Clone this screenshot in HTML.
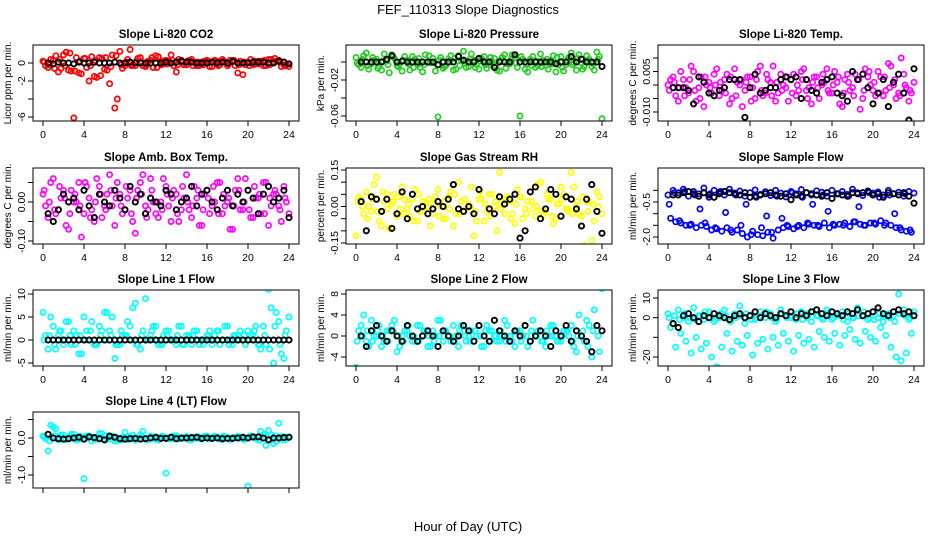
<!DOCTYPE html>
<html><head><meta charset="utf-8">
<style>
html,body{margin:0;padding:0;background:#fff;}
svg{display:block;font-family:"Liberation Sans",Arial,sans-serif;}
</style></head>
<body>
<svg id="chart" width="936" height="540" viewBox="0 0 936 540" xmlns="http://www.w3.org/2000/svg">
<rect width="936" height="540" fill="#fff"/>
<text x="468" y="14" font-size="13" text-anchor="middle">FEF_110313  Slope Diagnostics</text>
<text x="468" y="531" font-size="13" text-anchor="middle">Hour of Day (UTC)</text>
</svg>
<script>
const hoursA=[0,0.5,1,1.5,2,2.5,3,3.5,4,4.5,5,5.5,6,6.5,7,7.5,8,8.5,9,9.5,10,10.5,11,11.5,12,12.5,13,13.5,14,14.5,15,15.5,16,16.5,17,17.5,18,18.5,19,19.5,20,20.5,21,21.5,22,22.5,23,23.5,24];
const hoursB=[0.25,0.75,1.25,1.75,2.25,2.75,3.25,3.75,4.25,4.75,5.25,5.75,6.25,6.75,7.25,7.75,8.25,8.75,9.25,9.75,10.25,10.75,11.25,11.75,12.25,12.75,13.25,13.75,14.25,14.75,15.25,15.75,16.25,16.75,17.25,17.75,18.25,18.75,19.25,19.75,20.25,20.75,21.25,21.75,22.25,22.75,23.25,23.75];
const hoursC=[0.12,0.62,1.12,1.62,2.12,2.62,3.12,3.62,4.12,4.62,5.12,5.62,6.12,6.62,7.12,7.62,8.12,8.62,9.12,9.62,10.12,10.62,11.12,11.62,12.12,12.62,13.12,13.62,14.12,14.62,15.12,15.62,16.12,16.62,17.12,17.62,18.12,18.62,19.12,19.62,20.12,20.62,21.12,21.62,22.12,22.62,23.12,23.62];
const hoursK=[0.5,1,1.5,2,2.5,3,3.5,4,4.5,5,5.5,6,6.5,7,7.5,8,8.5,9,9.5,10,10.5,11,11.5,12,12.5,13,13.5,14,14.5,15,15.5,16,16.5,17,17.5,18,18.5,19,19.5,20,20.5,21,21.5,22,22.5,23,23.5,24];
const xTicks=[0,4,8,12,16,20,24];

const co2A=[0.2,-0.5,0.3,-1.0,0.9,-0.8,-6.1,-1.1,0.5,-2.0,-1.5,0.6,-0.7,-2.3,-5.0,1.3,-0.3,1.5,-0.3,0.6,-0.4,0.3,0.8,-0.2,0.3,0.9,-1.0,0.3,-0.2,0.4,-0.3,0.1,0.3,-0.4,0.2,0.4,-0.3,0.2,-1.1,-1.3,0.1,-0.2,0.2,-0.3,0.4,0.1,0.3,-0.2,-0.4];
const co2B=[-0.3,0.4,0.8,-0.6,1.2,-0.9,0.6,-1.2,-0.5,0.7,-1.6,0.5,-0.8,0.9,-4.0,-0.6,0.4,-0.2,0.5,-0.3,0.2,-0.5,0.7,-0.1,0.2,-0.3,0.4,-0.2,0.3,0.1,-0.3,0.2,-0.4,0.3,-0.2,0.1,0.3,-0.3,0.2,-0.2,0.4,-0.1,0.2,-0.3,0.4,0.2,-0.4,-0.2];
const co2C=[0.1,-0.2,-0.6,0.4,-0.3,1.1,-0.9,0.2,0.5,-0.3,0.3,-1.4,0.6,-0.4,0.8,-0.2,0.1,-0.3,0.2,0.1,-0.2,0.6,-0.5,0.2,-0.1,0.3,-0.2,0.1,0.2,-0.3,0.1,-0.2,0.2,0.1,-0.3,0.2,-0.1,0.3,-0.2,0.1,-0.3,0.2,-0.1,0.3,-0.2,0.5,0.1,-0.3];
const co2K=[0,-0.1,0.1,0,0,-0.1,0.1,0,0,0.1,0,0,0,0.1,0,0,0.1,0,0,0,0,0,0,0.1,0,0.1,0.2,0.1,0.1,0,0,0,0.1,0,0.1,0,0.2,0,0,0,0.1,0.1,0.1,0,0,0.2,0.1,-0.1];

const presA=[5,-6,10,-2,3,-9,1,8,-4,-10,2,6,-3,-11,0,4,-61,-7,3,-9,7,12,-5,2,-8,6,-3,4,-10,8,-2,5,-60,-8,3,-6,9,-4,2,-11,6,-3,10,-9,-1,7,-5,11,-63];
const presB=[-3,7,-8,2,-5,9,-12,4,-2,6,-9,3,-6,8,-1,-10,5,-4,7,-8,2,-6,9,-3,4,-7,1,-9,5,-2,8,-6,3,-11,6,-4,2,-8,7,-3,-10,5,-1,8,-5,3,-9,6];
const presC=[-1,3,-4,5,-7,1,-3,6,-5,2,-2,-6,4,-3,7,-1,2,-5,0,4,-4,-1,3,-6,1,-3,5,-4,2,-7,3,-1,6,-2,-4,1,-5,3,-2,5,-6,2,-3,4,-8,1,-2,3];
const presK=[0,0,0,0,0,3,7,0,1,0,0,0,0,0,0,-3,0,0,0,6,2,0,0,4,0,0,-6,0,0,0,8,0,0,0,0,0,0,0,-2,0,0,6,0,3,0,0,0,-5];

const tempA=[0,3,-6,2,-3,5,-1,-8,1,4,-4,2,-7,6,0,-2,3,-5,7,-3,1,-6,4,-1,2,-4,5,-2,-7,3,0,6,-3,1,-8,4,-1,2,-5,3,-2,5,-4,8,0,-3,4,-6,1];
const tempB=[2,-4,5,-1,7,-6,3,0,-3,6,-2,4,-5,1,-8,3,-1,5,-4,2,7,-3,0,-6,4,-2,6,-1,3,-5,1,-3,5,-7,2,-2,4,-9,6,0,-4,3,-2,7,-5,10,-1,-3];
const tempC=[-2,1,-1,-4,2,-2,-5,3,-1,0,1,-3,3,-4,2,1,-6,2,-2,4,-4,1,-2,3,-3,0,2,-5,1,-1,4,-2,0,3,-3,1,-4,2,-2,5,1,-3,3,-1,2,-4,0,-2];
const tempK=[-1,-1,-1,-2,-7,3,1,-3,-4,-2,-1,2,2,2,-12,-1,4,-3,-2,-1,-1,2,3,2,3,-5,2,-2,-3,1,2,3,-3,-4,-6,5,2,4,-1,-7,-3,2,-8,1,4,-3,-13,6];

const boxA=[2,-4,6,-2,3,-7,0,5,-3,1,-5,4,-1,7,-6,2,-2,3,-8,5,-1,6,-3,0,4,-5,2,-2,7,-4,1,-6,3,-1,5,-3,0,-7,6,-2,3,-4,1,5,-6,2,-1,4,-3];
const boxB=[-1,5,-3,1,-6,3,0,-9,4,-2,6,-4,2,-1,5,-3,1,-5,3,7,-2,0,-4,6,-1,3,-5,1,-2,4,-6,2,-3,0,5,-1,-7,3,-2,6,-4,1,-3,5,-1,2,-5,0];
const boxC=[3,0,-2,4,1,-3,2,-1,5,-4,0,2,-2,3,1,-1,4,-3,1,2,-4,3,0,-2,2,1,-3,4,0,-1,3,-2,1,4,-3,2,1,-1,3,0,-2,4,2,-3,1,3,-2,1];
const boxK=[-3,-5,-2,2,0,1,-2,3,-1,-4,2,0,-1,3,1,-2,4,0,2,-3,1,0,-1,3,2,-2,0,1,4,-1,2,3,0,-2,1,3,-1,2,0,3,1,-3,2,4,0,1,3,-4];

const rhA=[-12,3,6,-2,12,-8,5,1,-4,8,-1,3,-6,2,0,-3,7,-5,4,-8,10,-2,1,-12,3,-6,5,0,14,-3,2,-7,4,-1,6,-4,10,-2,3,-5,8,-1,14,0,-4,2,-14,6,-3];
const rhB=[4,-3,0,9,-6,2,-9,5,-1,3,-4,7,-2,1,-8,4,0,-5,6,-3,2,-1,8,-6,3,-2,5,-10,1,4,-3,7,-5,2,-1,9,-4,3,-7,1,5,-2,8,-3,-16,2,-6,4];
const rhC=[2,0,-5,3,-2,6,-1,2,4,-3,1,-6,5,-2,3,1,-4,2,-1,5,-3,3,0,-2,6,1,-4,2,-1,3,-5,1,4,-3,2,0,-2,5,-4,1,3,-1,-3,2,4,-2,1,0];
const rhK=[2,-10,4,3,-2,3,-9,-3,6,-5,5,-1,0,-3,-1,2,0,3,9,-1,-2,0,-3,7,-18,-1,-3,4,1,3,5,-13,-10,6,8,-5,-1,7,5,-4,4,3,-1,-8,3,9,-2,-11];

const sfA=[-20,0,-10,5,-25,-5,-15,10,-30,0,-8,-20,5,-12,-3,-25,-10,2,-18,-6,-22,0,-12,-28,-5,-15,3,-10,-20,-2,-8,-25,0,-15,-5,-18,5,-10,-22,-3,-12,-7,-20,0,-15,-8,-25,-5,-12];
const sfB=[-120,-135,-140,-150,-145,-160,-150,-155,-170,-165,-175,-160,-180,-170,-185,-200,-175,-190,-195,-180,-205,-170,-160,-155,-165,-150,-160,-145,-150,-155,-140,-160,-150,-145,-140,-155,-135,-145,-150,-140,-145,-130,-140,-150,-160,-170,-175,-180];
const sfC=[-60,-10,-130,-5,-150,-20,-80,-140,-15,-160,-5,-95,-170,-20,-150,-60,-190,-30,-160,-110,-180,-25,-120,-150,-10,-155,-30,-140,-60,-150,-20,-90,-145,-15,-150,-25,-135,-70,-150,-10,-140,-30,-150,-20,-100,-160,-15,-170];
const sfK=[-20,-20,-10,-5,-15,-25,-10,-20,-30,-15,-5,-10,-15,-20,-10,-30,-25,-20,-15,-10,-20,-25,-15,-40,-20,-25,-10,-15,-20,-25,-10,-35,-15,-20,-25,-10,-15,-10,-5,-20,-15,-30,-10,-15,-20,-10,-25,-55];

const l1A=[6,-2,3,1,-1,4,2,-3,5,0,-1,3,6,2,-4,-1,1,3,8,-2,9,1,3,-1,2,0,-1,3,1,-1,2,0,1,-1,2,0,3,-1,1,0,2,1,-1,3,11,-5,4,-4,5];
const l1B=[1,5,-2,2,4,-1,1,-3,2,4,-1,2,6,5,-1,1,4,7,-1,2,0,3,-1,1,2,0,3,-1,1,2,-1,0,2,1,-1,3,0,1,2,-1,1,3,-2,-1,7,6,-3,2];
const l1C=[0,1,-1,2,0,1,-1,1,0,2,-1,1,0,1,-1,2,1,0,-1,1,0,2,0,-1,1,0,1,-1,0,1,0,-1,1,0,2,0,-1,1,0,1,0,2,-1,1,-2,3,-1,1];
const l1K=[0,0,0,0,0,0,0,0,0,0,0,0,0,0,0,0,0,0,0,0,0,0,0,0,0,0,0,0,0,0,0,0,0,0,0,0,0,0,0,0,0,0,0,0,0,0,0,0];

const l2A=[-6,2,-1,3,0,-2,1,2,-3,0,1,-1,2,0,-2,1,3,-1,0,2,-2,1,0,-1,2,-2,1,0,-1,3,0,-2,1,2,-1,0,1,-2,2,0,-1,1,2,-3,0,3,-4,2,9];
const l2B=[1,4,-2,0,2,-1,1,3,-2,1,0,-1,2,1,-2,0,3,1,-1,0,2,-1,1,0,-2,2,1,-1,0,2,-1,1,0,-2,3,1,-1,0,2,-1,1,0,-2,4,-1,2,5,-3];
const l2C=[-1,0,1,-1,1,0,-1,1,0,-1,2,0,-1,1,0,-1,0,1,0,-1,1,0,-1,1,0,1,-1,0,1,-1,0,1,-1,0,1,0,-1,1,0,-1,0,1,-1,0,1,-2,1,0];
const l2K=[0,-2,1,2,0,-1,1,0,-1,2,0,-1,0,1,0,-2,1,0,-1,0,2,1,-1,2,0,-1,3,1,0,-1,1,0,2,-1,0,1,0,-2,1,0,2,-1,1,0,-1,-3,2,1];

const l3A=[2,-3,4,0,-2,5,1,-1,3,-2,0,4,-1,2,6,-3,1,-1,3,0,2,-2,4,1,0,-1,3,2,-2,1,0,4,-1,2,3,-2,0,5,1,-1,3,0,-2,2,1,12,4,-1,3];
const l3B=[-5,-15,-8,-12,-18,-10,-16,-13,-20,-25,-15,-8,-17,-12,-14,-9,-19,-13,-11,-16,-10,-14,-8,-12,-17,-9,-13,-11,-15,-7,-10,-12,-8,-14,-9,-6,-11,-13,-7,-10,-12,-5,-9,-15,-20,-22,-18,-8];
const l3C=[0,1,-1,2,0,-1,1,3,0,-1,2,1,-2,0,1,2,-1,0,1,3,0,-1,2,0,1,2,-1,0,3,1,-1,2,0,1,-1,2,0,1,3,0,-1,2,1,0,-2,2,1,0];
const l3K=[-3,-5,1,2,0,-2,1,0,2,1,0,-1,1,2,0,1,3,0,2,1,0,2,1,3,0,2,1,3,4,2,1,3,2,1,3,2,4,1,2,3,5,2,1,3,4,2,3,1];

const l4A=[5,-35,30,-5,8,-3,10,-4,-110,6,-2,12,-5,3,-8,-2,15,4,-6,8,-3,5,-4,2,-95,-3,6,-2,4,-5,1,-3,5,-2,3,-4,2,-1,4,-3,-130,2,-5,8,20,-15,40,-6,3];
const l4B=[-2,35,25,8,-4,10,-6,3,5,-8,2,12,-3,5,-7,2,-4,8,-2,18,-5,3,-6,4,-2,6,-3,1,-5,3,-2,4,-1,5,-3,2,-4,1,3,-2,5,-1,18,-20,8,-10,4,-2];
const l4C=[3,-8,6,2,-3,4,-1,5,-2,3,-4,1,6,-3,2,-5,3,1,-2,4,-1,2,-3,5,0,-2,3,-1,2,-3,4,0,-2,3,-1,5,-3,2,0,-4,3,1,-6,10,-4,6,-2,3];
const l4K=[10,0,-2,-3,-2,0,2,-3,3,1,-2,-5,5,2,-2,-3,-2,-1,-3,-2,0,2,-1,-1,2,-2,0,0,1,2,-1,0,-1,0,-2,-1,-1,0,2,0,3,3,0,-5,0,0,1,2];

const panelTitles=["Slope Li-820 CO2","Slope Li-820 Pressure","Slope Li-820 Temp.","Slope Amb. Box Temp.","Slope Gas Stream RH","Slope Sample Flow","Slope Line 1 Flow","Slope Line 2 Flow","Slope Line 3 Flow","Slope Line 4 (LT) Flow"];
const yTitles=["Licor ppm per min.","kPa per min.","degrees C per min.","degrees C per min.","percent per min.","ml/min per min.","ml/min per min.","ml/min per min.","ml/min per min.","ml/min per min."];

const NS="http://www.w3.org/2000/svg";
const svg=document.getElementById('chart');
function mk(tag,attrs,parent){const e=document.createElementNS(NS,tag);for(const k in attrs)e.setAttribute(k,attrs[k]);(parent||svg).appendChild(e);return e;}

const colL=[33,346,658], rowT=[45,168,290,412], W=266, H=76;
const panels=[
 {r:0,c:0,col:"#ff0000",k:1,A:co2A,B:co2B,C:co2C,K:co2K,ticks:[0,-2,-4,-6],labs:["0","-2","","-6"],cal:[0,63,-6,117]},
 {r:0,c:1,col:"#22cc22",k:0.001,A:presA,B:presB,C:presC,K:presK,ticks:[0,-0.02,-0.04,-0.06],labs:["","-0.02","","-0.06"],cal:[0,62,-0.06,116]},
 {r:0,c:2,col:"#ff00ff",k:0.001,A:tempA,B:tempB,C:tempC,K:tempK,ticks:[0.01,0.005,0,-0.005,-0.01],labs:["","0.005","","","-0.010"],cal:[0,85,-0.01,112]},
 {r:1,c:0,col:"#ff00ff",k:0.01,A:boxA,B:boxB,C:boxC,K:boxK,ticks:[0.05,0,-0.05,-0.1],labs:["","0.00","","-0.10"],cal:[0,202,-0.1,241]},
 {r:1,c:1,col:"#ffff00",k:0.01,A:rhA,B:rhB,C:rhC,K:rhK,ticks:[0.15,0.1,0.05,0,-0.05,-0.1,-0.15],labs:["0.15","","","0.00","","","-0.15"],cal:[0.15,170,-0.15,243]},
 {r:1,c:2,col:"#0000ff",k:0.01,A:sfA,B:sfB,C:sfC,K:sfK,ticks:[0,-0.5,-1,-1.5,-2],labs:["","-0.5","","","-2.0"],cal:[-0.5,202,-2,237]},
 {r:2,c:0,col:"#00ffff",k:1,A:l1A,B:l1B,C:l1C,K:l1K,ticks:[10,5,0,-5],labs:["10","5","0","-5"],cal:[10,294,-5,363]},
 {r:2,c:1,col:"#00ffff",k:1,A:l2A,B:l2B,C:l2C,K:l2K,ticks:[8,4,0,-4],labs:["8","4","0","-4"],cal:[8,294,-4,357]},
 {r:2,c:2,col:"#00ffff",k:1,A:l3A,B:l3B,C:l3C,K:l3K,ticks:[10,0,-10,-20],labs:["10","0","","-20"],cal:[10,298,-20,357]},
 {r:3,c:0,col:"#00ffff",k:0.01,A:l4A,B:l4B,C:l4C,K:l4K,ticks:[0.5,0,-0.5,-1],labs:["","0.0","","-1.0"],cal:[0,438,-1,475]}
];

panels.forEach((p,i)=>{
  const L=colL[p.c], T=rowT[p.r];
  const g=mk('g',{});
  
  
  const xs=h=>L+10+h*(W-20)/24;
  const [v1,p1,v2,p2]=p.cal;
  const ys=v=>p1+(v-v1)*(p2-p1)/(v2-v1);
  const clip='clip'+i;
  const cp=mk('clipPath',{id:clip},g); mk('rect',{x:L,y:T,width:W,height:H},cp);
  const t=mk('text',{x:L+W/2,y:T-7,'font-size':11.5,'font-weight':'bold','text-anchor':'middle'},g);
  t.textContent=panelTitles[i];
  
  
  const yt=mk('text',{x:0,y:0,'font-size':10,'text-anchor':'middle',transform:`translate(${L-22},${T+H/2}) rotate(-90)`},g);
  yt.textContent=yTitles[i];
  
  
  const pts=mk('g',{'clip-path':`url(#${clip})`,fill:'none'},g);
  
  
  [[hoursA,p.A,p.col],[hoursB,p.B,p.col],[hoursC,p.C,p.col],[hoursK,p.K,'#000']].forEach(([hx,vy,color])=>{
    vy.forEach((v,j)=>{
      const c=mk('circle',{cx:xs(hx[j]).toFixed(1),cy:ys(v*p.k).toFixed(1),r:2.6,stroke:color,'stroke-width':color==='#000'?1.9:1.7},pts);
      
      
    });
  });
  const box=mk('rect',{x:L,y:T,width:W,height:H,fill:'none',stroke:'#000','stroke-width':1},g);
  
  
  xTicks.forEach(h=>{
    mk('line',{x1:xs(h),x2:xs(h),y1:T+H,y2:T+H+5,stroke:'#000'},g);
    if(p.r<3){
      const tl=mk('text',{x:xs(h),y:T+H+17,'font-size':10.5,'text-anchor':'middle'},g);
      tl.textContent=h;
      
      
    }
  });
  p.ticks.forEach((v,j)=>{
    const y=ys(v);
    mk('line',{x1:L-5,x2:L,y1:y,y2:y,stroke:'#000'},g);
    if(p.labs[j]){
      const tl=mk('text',{x:0,y:0,'font-size':10.5,'text-anchor':'middle',transform:`translate(${L-8},${y}) rotate(-90)`},g);
      tl.textContent=p.labs[j];
      
      
    }
  });
});
</script>
</body></html>
